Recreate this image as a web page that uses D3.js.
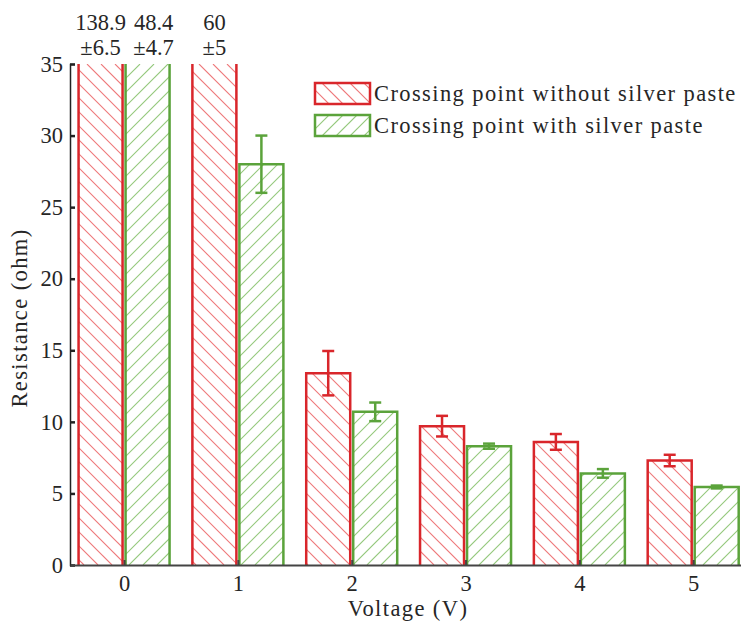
<!DOCTYPE html>
<html>
<head>
<style>
body { margin: 0; background: #fff; }
svg text { font-family: "Liberation Serif", "DejaVu Serif", serif; fill: #262626; }
</style>
<script src="https://cdn.jsdelivr.net/npm/d3@7"></script>
</head>
<body>
<svg id="chart" width="741" height="626"></svg>
<script>
var voltages = [0, 1, 2, 3, 4, 5];
var withoutPaste = [138.9, 60, 13.4, 9.7, 8.6, 7.3];
var withoutErr = [6.5, 5, 1.55, 0.72, 0.55, 0.4];
var withPaste = [48.4, 28.0, 10.7, 8.3, 6.4, 5.45];
var withErr = [4.7, 2.0, 0.65, 0.18, 0.3, 0.1];
var yTicks = [0, 5, 10, 15, 20, 25, 30, 35];
var seriesNames = ["Crossing point without silver paste", "Crossing point with silver paste"];

var red = "#d9262b", green = "#5ba33b";
var fs = 22.5, ls = "1.4px";
var svg = d3.select("#chart");

var x = d3.scaleLinear().domain([-0.475, 5.42]).range([70, 741]);
var y = d3.scaleLinear().domain([0, 35]).range([565, 64]);
var barW = 44, off = 23.5;

var series = [
  { id: "r", name: seriesNames[0], vals: withoutPaste, err: withoutErr, color: red, hatch: "rgb(238,120,122)", dir: -1, dx: -off, ldx: 0 },
  { id: "g", name: seriesNames[1], vals: withPaste, err: withErr, color: green, hatch: "rgb(148,200,124)", dir: 1, dx: off, ldx: 6 }
];

var defs = svg.append("defs");

// diagonal hatch drawn as plain lines, clipped to a set of rects
function hatchLines(g, x0, y0, w, h, col, dir) {
  var step = 14;
  var cs = d3.range(-h - step, w + step, step);
  g.selectAll("line.h").data(cs).enter().append("line").attr("class", "h")
    .attr("x1", function(c) { return x0 + c; })
    .attr("y1", dir > 0 ? y0 + h : y0)
    .attr("x2", function(c) { return x0 + c + h; })
    .attr("y2", dir > 0 ? y0 : y0 + h)
    .style("stroke", col).style("stroke-width", "1.1px");
}

var plot = svg.append("g");
series.forEach(function(s) {
  var vis = s.vals.map(function(v) { return Math.min(v, 35); });
  var cp = defs.append("clipPath").attr("id", "clip-" + s.id);
  cp.selectAll("rect").data(vis).enter().append("rect")
    .attr("x", function(d, i) { return x(voltages[i]) + s.dx - barW / 2; })
    .attr("y", function(d) { return y(d); })
    .attr("width", barW)
    .attr("height", function(d) { return y(0) - y(d); });

  var hg = plot.append("g").attr("clip-path", "url(#clip-" + s.id + ")");
  hatchLines(hg, 70, y(35), 671, y(0) - y(35), s.hatch, s.dir);

  var g = plot.append("g");
  g.selectAll("path.bar").data(vis).enter().append("path").attr("class", "bar")
    .attr("d", function(d, i) {
      var x0 = x(voltages[i]) + s.dx - barW / 2, x1 = x0 + barW;
      var top = y(d), bot = y(0);
      // clipped bars get no top edge
      if (s.vals[i] > 35) return "M" + x0 + "," + bot + "V" + top + "M" + x1 + "," + top + "V" + bot;
      return "M" + x0 + "," + bot + "V" + top + "H" + x1 + "V" + bot;
    })
    .attr("fill", "none")
    .attr("stroke", s.color)
    .attr("stroke-width", 2.5);

  // error bars only where visible
  s.vals.forEach(function(v, i) {
    if (v + s.err[i] > 35) return;
    var cx = x(voltages[i]) + s.dx;
    var eg = g.append("g").attr("stroke", s.color).attr("stroke-width", 2.5);
    eg.append("line").attr("x1", cx).attr("x2", cx).attr("y1", y(v - s.err[i])).attr("y2", y(v + s.err[i]));
    eg.append("line").attr("x1", cx - 6).attr("x2", cx + 6).attr("y1", y(v - s.err[i])).attr("y2", y(v - s.err[i]));
    eg.append("line").attr("x1", cx - 6).attr("x2", cx + 6).attr("y1", y(v + s.err[i])).attr("y2", y(v + s.err[i]));
  });
});

// value labels for bars running off the top
series.forEach(function(s) {
  s.vals.forEach(function(v, i) {
    if (v <= 35) return;
    var cx = x(voltages[i]) + s.dx + s.ldx;
    var t = svg.append("text").attr("text-anchor", "middle").attr("font-size", fs);
    t.append("tspan").attr("x", cx).attr("y", 30).text(v);
    t.append("tspan").attr("x", cx).attr("y", 55).text("\u00b1" + s.err[i]);
  });
});

// axes
var yAxis = svg.append("g").attr("transform", "translate(70,0)")
  .call(d3.axisLeft(y).tickValues(yTicks).tickSizeInner(-5).tickSizeOuter(-5).tickPadding(7));
yAxis.select(".domain").attr("stroke", "#222").attr("stroke-width", 1.5);
yAxis.selectAll(".tick line").attr("stroke", "#222").attr("stroke-width", 2.5);
yAxis.selectAll("text").attr("font-size", fs).attr("font-family", null).attr("fill", "#262626");

var xAxis = svg.append("g").attr("transform", "translate(0," + y(0) + ")")
  .call(d3.axisBottom(x).tickValues(voltages).tickFormat(d3.format("d")).tickSizeInner(-5).tickSizeOuter(0).tickPadding(10));
xAxis.select(".domain").attr("stroke", "#444").attr("stroke-width", 2);
xAxis.selectAll(".tick line").attr("stroke", "#444").attr("stroke-width", 2);
xAxis.selectAll("text").attr("font-size", fs).attr("font-family", null).attr("fill", "#262626");

svg.append("text").attr("x", 408).attr("y", 616).attr("text-anchor", "middle")
  .attr("font-size", fs).style("letter-spacing", ls).text("Voltage (V)");
svg.append("text").attr("transform", "translate(27,318) rotate(-90)").attr("text-anchor", "middle")
  .attr("font-size", fs).style("letter-spacing", ls).text("Resistance (ohm)");

// legend
var legend = svg.append("g").attr("transform", "translate(315,83)");
series.forEach(function(s, i) {
  var lg = legend.append("g").attr("transform", "translate(0," + i * 32 + ")");
  var cp = defs.append("clipPath").attr("id", "leg-" + s.id);
  cp.append("rect").attr("width", 55).attr("height", 21);
  hatchLines(lg.append("g").attr("clip-path", "url(#leg-" + s.id + ")"), 0, 0, 55, 21, s.hatch, s.dir);
  lg.append("rect").attr("width", 55).attr("height", 21)
    .attr("fill", "none").attr("stroke", s.color).attr("stroke-width", 2.5);
  lg.append("text").attr("x", 59).attr("y", 18).attr("font-size", fs)
    .style("letter-spacing", ls).text(s.name);
});
</script>
</body>
</html>
